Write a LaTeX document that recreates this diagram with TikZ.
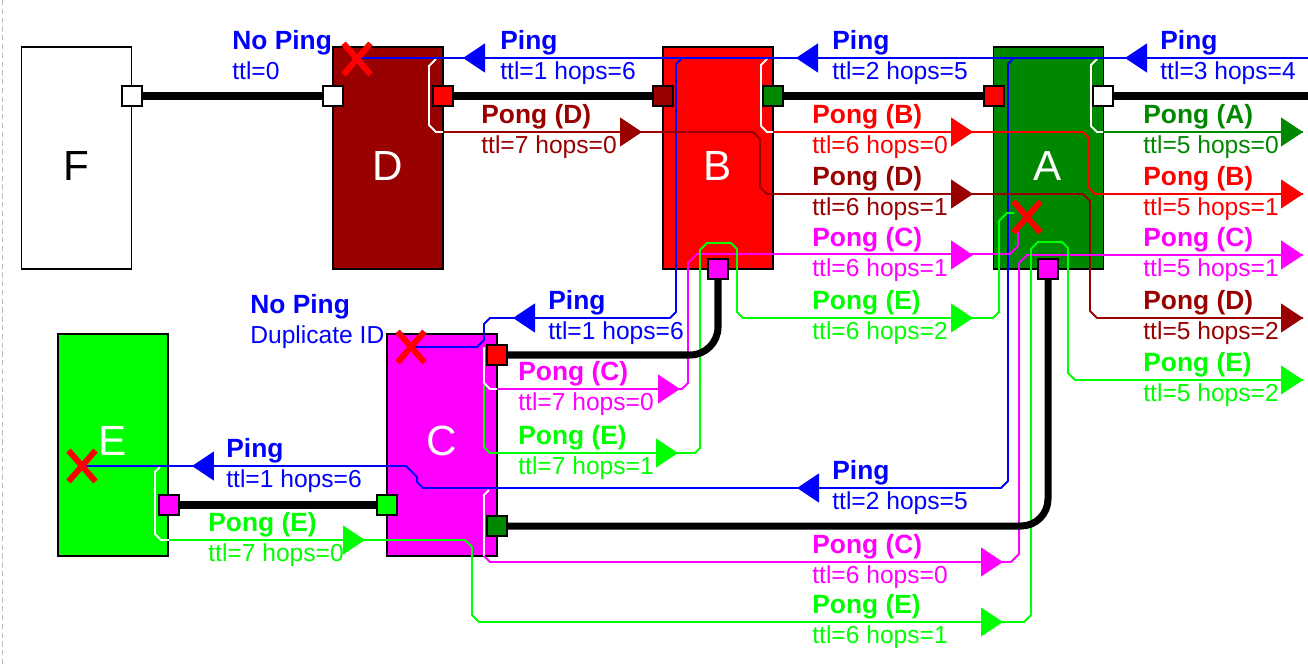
\documentclass[tikz,border=0pt]{standalone}
\usepackage{fontspec}
\setmainfont{Liberation Sans}
\usepackage{tikz}
\usetikzlibrary{arrows.meta, shapes.misc}

\definecolor{pcol}{RGB}{0,0,255}
\definecolor{dcol}{RGB}{153,0,0}
\definecolor{bcol}{RGB}{255,0,0}
\definecolor{acol}{RGB}{0,136,0}
\definecolor{ccol}{RGB}{255,0,255}
\definecolor{ecol}{RGB}{0,255,0}

\begin{document}
\begin{tikzpicture}[x=0.02cm, y=-0.02cm, >=Stealth,
    box/.style={draw, line width=1.1pt, minimum width=2.2cm, minimum height=4.44cm, inner sep=0},
    port/.style={draw, line width=1.1pt, minimum size=0.4cm, inner sep=0},
    link/.style={line width=4pt},
    route/.style={line width=1.1pt},
    tip/.style={-{Triangle[length=0.44cm, width=0.58cm]}, line width=0.5pt},
    drop/.style={cross out, draw=red, line width=3.4pt, minimum width=0.42cm, minimum height=0.5cm, inner sep=0},
    head/.style={font=\fontsize{15}{15}\selectfont\bfseries, inner sep=0, anchor=south west},
    tail/.style={font=\fontsize{14}{14}\selectfont, inner sep=0, anchor=north west},
    letter/.style={font=\fontsize{24}{24}\selectfont, text=white}]
    \useasboundingbox (0,0) rectangle (1308,664);
    \draw[black!25, densely dashed] (2,0) -- (2,664);

    % boxes
    \node[box, fill=white] (F) at (76.5,158) {};
    \node[box, fill=dcol] (D) at (388,158) {};
    \node[box, fill=bcol] (B) at (718,158) {};
    \node[box, fill=acol] (A) at (1048.5,158) {};
    \node[box, fill=ecol] (E) at (113,445) {};
    \node[box, fill=ccol] (C) at (442,445) {};
    \node[letter, text=black] (Fname) at (76,166) {F};
    \node[letter] (Dname) at (388,166) {D};
    \node[letter] (Bname) at (718,166) {B};
    \node[letter] (Aname) at (1048,166) {A};
    \node[letter] (Ename) at (113,441) {E};
    \node[letter] (Cname) at (442,441) {C};

    % parts of routes inside a box of the same colour
    \draw[route, white] (436,59) -- (429,66) -- (429,125) -- (436,132) -- (443,132);
    \draw[route, white] (767,59) -- (761,65) -- (761,126) -- (767,132) -- (773,132);
    \draw[route, white] (1097,59) -- (1091,65) -- (1091,126) -- (1097,132) -- (1103,132);
    \draw[route, white] (160,467) -- (155,472) -- (155,534) -- (161,540) -- (169,540);
    \draw[route, white] (484,347) -- (484,383) -- (490,389) -- (497,389);
    \draw[route, white] (489,490) -- (484,495) -- (484,556);

    % pings
    \draw[route, pcol] (357,58) -- (1308,58);
    \draw[route, pcol] (682,58) -- (676,64) -- (676,312) -- (670,318) -- (490,318)
        -- (484,324) -- (484,340) -- (477,347) -- (410,347);
    \draw[route, pcol] (1014,58) -- (1008,64) -- (1008,481) -- (1001,488) -- (423,488)
        -- (417,482) -- (417,477) -- (406,466) -- (82,466);

    % pongs
    \draw[route, dcol] (443,132) -- (753,132) -- (760,139) -- (760,187) -- (767,194)
        -- (1083,194) -- (1090,201) -- (1090,311) -- (1097,318) -- (1303,318);
    \draw[route, bcol] (773,132) -- (1083,132) -- (1089,138) -- (1089,188) -- (1095,194) -- (1303,194);
    \draw[route, acol] (1103,132) -- (1303,132);
    \draw[route, ccol] (497,389) -- (682,389) -- (688,383) -- (688,263) -- (697,254)
        -- (1010,254) -- (1018,246) -- (1018,230);
    \draw[route, ccol] (484,556) -- (490,562) -- (1011,562) -- (1019,554) -- (1019,263)
        -- (1027,255) -- (1303,255);
    \draw[route, ecol] (169,540) -- (465,540) -- (472,547) -- (472,615) -- (479,622)
        -- (1024,622) -- (1031,615) -- (1031,249) -- (1038,242) -- (1062,242) -- (1068,248)
        -- (1068,373) -- (1075,380) -- (1303,380);
    \draw[route, ecol] (484,385) -- (484,447) -- (490,453) -- (695,453) -- (700,448)
        -- (700,250) -- (707,243) -- (731,243) -- (737,249) -- (737,312) -- (743,318)
        -- (993,318) -- (999,312) -- (999,221) -- (1007,213) -- (1014,213);

    % arrow heads
    \foreach \px/\py in {463/58, 796/58, 1125/58, 513/318, 192/466, 797/488}
        \draw[tip, pcol] (\px+22,\py) -- (\px,\py);
    \foreach \px/\py/\col in {642/132/dcol, 973/132/bcol, 973/194/dcol, 973/255/ccol,
        973/318/ecol, 1303/132/acol, 1303/194/bcol, 1303/255/ccol, 1303/318/dcol,
        1303/380/ecol, 680/389/ccol, 678/453/ecol, 365/540/ecol, 1003/562/ccol, 1003/622/ecol}
        \draw[tip, \col] (\px-22,\py) -- (\px,\py);

    % ports and links
    \node[port, fill=white] (Fr) at (132,96) {};
    \node[port, fill=white] (Dl) at (333,96) {};
    \node[port, fill=bcol] (Dr) at (443,96) {};
    \node[port, fill=dcol] (Bl) at (663,96) {};
    \node[port, fill=acol] (Br) at (773,96) {};
    \node[port, fill=bcol] (Al) at (994,96) {};
    \node[port, fill=white] (Ar) at (1103,96) {};
    \node[port, fill=ccol] (Bb) at (718,269) {};
    \node[port, fill=ccol] (Ab) at (1048,269) {};
    \node[port, fill=bcol] (Ct) at (497,355) {};
    \node[port, fill=ecol] (Cl) at (387,505) {};
    \node[port, fill=ccol] (Er) at (169,505) {};
    \node[port, fill=acol] (Cb) at (497,526) {};
    \coordinate (out) at (1308,96);
    \draw[link] (Fr) -- (Dl);
    \draw[link] (Dr) -- (Bl);
    \draw[link] (Br) -- (Al);
    \draw[link] (Ar) -- (out);
    \draw[link] (Er) -- (Cl);
    \draw[link, rounded corners=0.56cm] (Bb) -- (Bb |- Ct) -- (Ct);
    \draw[link, rounded corners=0.54cm] (Ab) -- (Ab |- Cb) -- (Cb);

    % dropped messages
    \node[drop] (xD) at (357,59) {};
    \node[drop] (xC) at (411,347) {};
    \node[drop] (xE) at (82,466) {};
    \node[drop] (xA) at (1027,217) {};

    % labels
    \foreach \nm/\px/\py/\col/\headtxt/\infotxt in {
        a/232/58/pcol/No Ping/ttl=0,
        b/500/58/pcol/Ping/ttl=1 hops=6,
        c/832/58/pcol/Ping/ttl=2 hops=5,
        d/1160/58/pcol/Ping/ttl=3 hops=4,
        e/548/318/pcol/Ping/ttl=1 hops=6,
        f/226/466/pcol/Ping/ttl=1 hops=6,
        g/832/488/pcol/Ping/ttl=2 hops=5,
        h/250/322/pcol/No Ping/Duplicate ID,
        i/481/132/dcol/Pong (D)/ttl=7 hops=0,
        j/812/132/bcol/Pong (B)/ttl=6 hops=0,
        k/812/194/dcol/Pong (D)/ttl=6 hops=1,
        l/812/255/ccol/Pong (C)/ttl=6 hops=1,
        m/812/318/ecol/Pong (E)/ttl=6 hops=2,
        n/1143/132/acol/Pong (A)/ttl=5 hops=0,
        o/1143/194/bcol/Pong (B)/ttl=5 hops=1,
        p/1143/255/ccol/Pong (C)/ttl=5 hops=1,
        q/1143/318/dcol/Pong (D)/ttl=5 hops=2,
        r/1143/380/ecol/Pong (E)/ttl=5 hops=2,
        s/518/389/ccol/Pong (C)/ttl=7 hops=0,
        t/518/453/ecol/Pong (E)/ttl=7 hops=1,
        u/208/540/ecol/Pong (E)/ttl=7 hops=0,
        v/812/562/ccol/Pong (C)/ttl=6 hops=0,
        w/812/622/ecol/Pong (E)/ttl=6 hops=1}
    {
        \node[head, text=\col] (h\nm) at (\px,\py-3) {\headtxt};
        \node[tail, text=\col] (t\nm) at (\px,\py+3) {\infotxt};
    }
\end{tikzpicture}
\end{document}
